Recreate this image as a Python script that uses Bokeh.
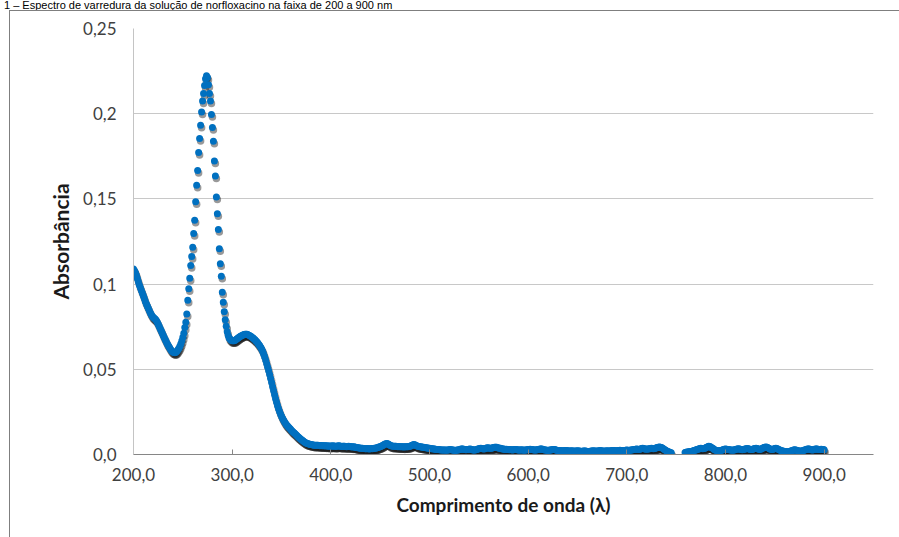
from bokeh.plotting import figure
from bokeh.layouts import column
from bokeh.models import (ColumnDataSource, Range1d, FixedTicker, Div,
                          CustomJSTickFormatter, InlineStyleSheet)
from bokeh.embed import file_html
from bokeh.resources import INLINE

# Absorbance spectrum of the norfloxacin solution, 1 nm step.
abs_200_249 = [
    0.1088, 0.1078, 0.1066, 0.1050, 0.1032, 0.1012, 0.0993, 0.0978, 0.0962, 0.0948,
    0.0932, 0.0915, 0.0898, 0.0884, 0.0871, 0.0858, 0.0845, 0.0832, 0.0821, 0.0812,
    0.0805, 0.0800, 0.0795, 0.0788, 0.0778, 0.0766, 0.0752, 0.0740, 0.0727, 0.0714,
    0.0701, 0.0688, 0.0676, 0.0664, 0.0652, 0.0642, 0.0632, 0.0622, 0.0613, 0.0606,
    0.0601, 0.0598, 0.0597, 0.0600, 0.0606, 0.0614, 0.0624, 0.0636, 0.0650, 0.0668,
]
abs_250_299 = [
    0.0688, 0.0712, 0.0745, 0.0776, 0.0825, 0.0905, 0.0972, 0.1034, 0.1109, 0.1162,
    0.1216, 0.1297, 0.1374, 0.1483, 0.1580, 0.1667, 0.1772, 0.1854, 0.1932, 0.2010,
    0.2074, 0.2119, 0.2165, 0.2205, 0.2222, 0.2212, 0.2170, 0.2119, 0.2074, 0.1995,
    0.1919, 0.1838, 0.1722, 0.1634, 0.1511, 0.1413, 0.1321, 0.1207, 0.1119, 0.1046,
    0.0952, 0.0893, 0.0838, 0.0791, 0.0752, 0.0720, 0.0698, 0.0684, 0.0676, 0.0671,
]
abs_300_349 = [
    0.0668, 0.0667, 0.0668, 0.0671, 0.0675, 0.0679, 0.0684, 0.0688, 0.0692, 0.0696,
    0.0699, 0.0702, 0.0704, 0.0706, 0.0706, 0.0705, 0.0703, 0.0700, 0.0697, 0.0693,
    0.0689, 0.0684, 0.0679, 0.0673, 0.0667, 0.0661, 0.0654, 0.0646, 0.0638, 0.0628,
    0.0617, 0.0604, 0.0589, 0.0572, 0.0553, 0.0533, 0.0512, 0.0491, 0.0469, 0.0446,
    0.0422, 0.0398, 0.0374, 0.0350, 0.0327, 0.0306, 0.0286, 0.0268, 0.0252, 0.0237,
]
abs_350_399 = [
    0.0224, 0.0213, 0.0202, 0.0192, 0.0183, 0.0175, 0.0168, 0.0161, 0.0155, 0.0149,
    0.0143, 0.0137, 0.0131, 0.0126, 0.0120, 0.0114, 0.0109, 0.0103, 0.0098, 0.0093,
    0.0088, 0.0083, 0.0079, 0.0075, 0.0071, 0.0068, 0.0065, 0.0063, 0.0061, 0.0059,
    0.0058, 0.0057, 0.0056, 0.0055, 0.0055, 0.0054, 0.0055, 0.0054, 0.0053, 0.0052,
    0.0053, 0.0052, 0.0051, 0.0052, 0.0051, 0.0050, 0.0051, 0.0050, 0.0049, 0.0050,
]
abs_400_449 = [
    0.0050, 0.0049, 0.0051, 0.0050, 0.0049, 0.0048, 0.0049, 0.0050, 0.0051, 0.0050,
    0.0048, 0.0047, 0.0048, 0.0049, 0.0048, 0.0047, 0.0046, 0.0047, 0.0048, 0.0047,
    0.0046, 0.0045, 0.0044, 0.0045, 0.0044, 0.0042, 0.0041, 0.0040, 0.0039, 0.0038,
    0.0037, 0.0036, 0.0036, 0.0035, 0.0035, 0.0034, 0.0034, 0.0035, 0.0034, 0.0033,
    0.0034, 0.0035, 0.0034, 0.0035, 0.0036, 0.0037, 0.0038, 0.0040, 0.0042, 0.0044,
]
abs_450_499 = [
    0.0046, 0.0049, 0.0052, 0.0055, 0.0058, 0.0061, 0.0063, 0.0064, 0.0062, 0.0059,
    0.0055, 0.0052, 0.0050, 0.0049, 0.0048, 0.0049, 0.0048, 0.0047, 0.0046, 0.0047,
    0.0046, 0.0045, 0.0046, 0.0045, 0.0044, 0.0045, 0.0046, 0.0045, 0.0046, 0.0047,
    0.0048, 0.0050, 0.0053, 0.0056, 0.0058, 0.0057, 0.0054, 0.0051, 0.0049, 0.0047,
    0.0046, 0.0045, 0.0044, 0.0043, 0.0042, 0.0041, 0.0040, 0.0039, 0.0038, 0.0037,
]
abs_500_549 = [
    0.0036, 0.0035, 0.0034, 0.0034, 0.0033, 0.0032, 0.0031, 0.0030, 0.0030, 0.0029,
    0.0028, 0.0028, 0.0027, 0.0026, 0.0026, 0.0027, 0.0026, 0.0025, 0.0026, 0.0027,
    0.0028, 0.0029, 0.0028, 0.0027, 0.0026, 0.0025, 0.0024, 0.0025, 0.0026, 0.0027,
    0.0028, 0.0030, 0.0032, 0.0033, 0.0032, 0.0030, 0.0029, 0.0028, 0.0029, 0.0030,
    0.0031, 0.0032, 0.0031, 0.0029, 0.0027, 0.0026, 0.0027, 0.0028, 0.0030, 0.0032,
]
abs_550_599 = [
    0.0034, 0.0035, 0.0036, 0.0035, 0.0034, 0.0033, 0.0034, 0.0036, 0.0038, 0.0039,
    0.0038, 0.0037, 0.0036, 0.0037, 0.0039, 0.0041, 0.0042, 0.0043, 0.0042, 0.0040,
    0.0038, 0.0037, 0.0036, 0.0034, 0.0033, 0.0032, 0.0031, 0.0030, 0.0031, 0.0030,
    0.0029, 0.0028, 0.0029, 0.0028, 0.0027, 0.0028, 0.0029, 0.0030, 0.0029, 0.0028,
    0.0027, 0.0026, 0.0027, 0.0028, 0.0027, 0.0026, 0.0025, 0.0026, 0.0027, 0.0028,
]
abs_600_649 = [
    0.0029, 0.0030, 0.0031, 0.0030, 0.0029, 0.0028, 0.0027, 0.0026, 0.0027, 0.0028,
    0.0029, 0.0030, 0.0032, 0.0033, 0.0032, 0.0030, 0.0028, 0.0027, 0.0026, 0.0025,
    0.0024, 0.0025, 0.0026, 0.0027, 0.0028, 0.0029, 0.0030, 0.0029, 0.0027, 0.0025,
    0.0024, 0.0023, 0.0022, 0.0023, 0.0022, 0.0021, 0.0022, 0.0023, 0.0024, 0.0023,
    0.0022, 0.0021, 0.0020, 0.0021, 0.0022, 0.0021, 0.0020, 0.0019, 0.0020, 0.0021,
]
abs_650_699 = [
    0.0022, 0.0021, 0.0020, 0.0019, 0.0018, 0.0019, 0.0020, 0.0021, 0.0020, 0.0019,
    0.0018, 0.0017, 0.0018, 0.0019, 0.0020, 0.0021, 0.0022, 0.0021, 0.0020, 0.0019,
    0.0020, 0.0021, 0.0022, 0.0023, 0.0022, 0.0021, 0.0020, 0.0019, 0.0020, 0.0021,
    0.0022, 0.0021, 0.0020, 0.0021, 0.0022, 0.0023, 0.0024, 0.0023, 0.0022, 0.0021,
    0.0022, 0.0023, 0.0024, 0.0025, 0.0024, 0.0023, 0.0022, 0.0023, 0.0024, 0.0025,
]
abs_700_745 = [
    0.0026, 0.0025, 0.0024, 0.0025, 0.0026, 0.0027, 0.0028, 0.0029, 0.0030, 0.0031,
    0.0032, 0.0031, 0.0030, 0.0031, 0.0033, 0.0035, 0.0036, 0.0035, 0.0033, 0.0032,
    0.0031, 0.0032, 0.0033, 0.0034, 0.0035, 0.0036, 0.0035, 0.0034, 0.0035, 0.0037,
    0.0039, 0.0041, 0.0043, 0.0044, 0.0043, 0.0041, 0.0038, 0.0034, 0.0030, 0.0026,
    0.0022, 0.0019, 0.0016, 0.0014, 0.0012, 0.0011,
]
# second detector segment (after the gap)
abs_759_799 = [
    0.0012, 0.0013, 0.0014, 0.0015, 0.0016, 0.0017, 0.0018, 0.0019, 0.0021, 0.0023,
    0.0025, 0.0027, 0.0029, 0.0031, 0.0033, 0.0035, 0.0036, 0.0035, 0.0034, 0.0035,
    0.0037, 0.0040, 0.0043, 0.0046, 0.0048, 0.0047, 0.0044, 0.0040, 0.0036, 0.0032,
    0.0028, 0.0025, 0.0023, 0.0022, 0.0021, 0.0022, 0.0023, 0.0025, 0.0027, 0.0029,
    0.0031,
]
abs_800_849 = [
    0.0032, 0.0031, 0.0030, 0.0029, 0.0028, 0.0027, 0.0026, 0.0025, 0.0026, 0.0027,
    0.0029, 0.0031, 0.0033, 0.0034, 0.0033, 0.0031, 0.0029, 0.0028, 0.0029, 0.0031,
    0.0033, 0.0034, 0.0035, 0.0034, 0.0032, 0.0030, 0.0029, 0.0030, 0.0032, 0.0034,
    0.0035, 0.0036, 0.0035, 0.0033, 0.0031, 0.0030, 0.0032, 0.0035, 0.0038, 0.0041,
    0.0043, 0.0044, 0.0042, 0.0039, 0.0036, 0.0033, 0.0031, 0.0030, 0.0031, 0.0033,
]
abs_850_900 = [
    0.0035, 0.0036, 0.0035, 0.0032, 0.0029, 0.0026, 0.0024, 0.0022, 0.0020, 0.0019,
    0.0018, 0.0017, 0.0016, 0.0015, 0.0016, 0.0018, 0.0020, 0.0022, 0.0024, 0.0026,
    0.0028, 0.0027, 0.0025, 0.0023, 0.0021, 0.0020, 0.0019, 0.0020, 0.0022, 0.0024,
    0.0026, 0.0028, 0.0030, 0.0032, 0.0033, 0.0032, 0.0030, 0.0028, 0.0027, 0.0028,
    0.0030, 0.0032, 0.0033, 0.0032, 0.0030, 0.0029, 0.0030, 0.0031, 0.0030, 0.0029,
    0.0028,
]

absorbance_a = (abs_200_249 + abs_250_299 + abs_300_349 + abs_350_399 + abs_400_449
                + abs_450_499 + abs_500_549 + abs_550_599 + abs_600_649 + abs_650_699
                + abs_700_745)
absorbance_b = abs_759_799 + abs_800_849 + abs_850_900
start_a, start_b = 200, 759
wavelength_a = [start_a + i for i in range(len(absorbance_a))]
wavelength_b = [start_b + i for i in range(len(absorbance_b))]

x_ticks = [200, 300, 400, 500, 600, 700, 800, 900]
x_tick_labels = ["200,0", "300,0", "400,0", "500,0", "600,0", "700,0", "800,0", "900,0"]
y_ticks = [0.0, 0.05, 0.1, 0.15, 0.2, 0.25]
y_tick_labels = ["0,0", "0,05", "0,1", "0,15", "0,2", "0,25"]

x_title = "Comprimento de onda (λ)"
y_title = "Absorbância"
caption = "1 – Espectro de varredura da solução de norfloxacino na faixa de 200 a 900 nm"

W = 899
CAPTION_H = 10
H = 537 - CAPTION_H
X0, X1 = 200, 950
Y0, Y1 = 0.0, 0.25
BORDER_L, BORDER_R, BORDER_T, BORDER_B = 133, 26, 18, 83

# caption line above the chart box
caption_div = Div(text=caption, width=W, height=CAPTION_H, margin=0,
                  styles={"font-family": "Liberation Sans", "font-size": "11px",
                          "line-height": "10px", "white-space": "nowrap",
                          "color": "#000000", "padding-left": "4px",
                          "overflow": "visible", "background-color": "white"})

# thin grey frame of the chart area (left and top edges), drawn in CSS
frame_css = InlineStyleSheet(css="""
:host { position: relative; background-color: white; }
:host::after {
  content: ""; position: absolute; left: 9px; top: 0; right: 0; bottom: 0;
  border-left: 1px solid #7f7f7f; border-top: 1px solid #7f7f7f;
  pointer-events: none; z-index: 10;
}
""")

p = figure(width=W, height=H, output_backend="svg", toolbar_location=None,
           x_range=Range1d(X0, X1), y_range=Range1d(Y0, Y1),
           min_border_left=BORDER_L, min_border_right=BORDER_R,
           min_border_top=BORDER_T, min_border_bottom=BORDER_B,
           stylesheets=[frame_css], margin=0)
p.outline_line_color = None
p.background_fill_color = "white"
p.border_fill_color = "white"

# drop shadow under the markers: a small screen offset converted to data units
frame_w = W - BORDER_L - BORDER_R
frame_h = H - BORDER_T - BORDER_B
dx = 1.0 * (X1 - X0) / frame_w
dy = 2.5 * (Y1 - Y0) / frame_h

all_wl = wavelength_a + wavelength_b
all_abs = absorbance_a + absorbance_b
shadow = ColumnDataSource(dict(x=[w + dx for w in all_wl], y=[a - dy for a in all_abs]))
p.scatter("x", "y", source=shadow, size=7.5, marker="circle",
          fill_color="#1c1c1c", line_color=None, fill_alpha=0.45)

for wl, ab in ((wavelength_a, absorbance_a), (wavelength_b, absorbance_b)):
    src = ColumnDataSource(dict(x=wl, y=ab))
    p.scatter("x", "y", source=src, size=7, marker="circle",
              fill_color="#0070C0", line_color=None)

fmt_code = """
const i = tick_values.findIndex(t => Math.abs(t - tick) < 1e-6);
return i >= 0 ? tick_texts[i] : "";
"""
p.xaxis.ticker = FixedTicker(ticks=x_ticks)
p.xaxis.formatter = CustomJSTickFormatter(
    args=dict(tick_values=x_ticks, tick_texts=x_tick_labels), code=fmt_code)
p.yaxis.ticker = FixedTicker(ticks=y_ticks)
p.yaxis.formatter = CustomJSTickFormatter(
    args=dict(tick_values=y_ticks, tick_texts=y_tick_labels), code=fmt_code)

tick_font = "Lato"
for ax in (p.xaxis, p.yaxis):
    ax.major_label_text_font = tick_font
    ax.major_label_text_font_size = "17px"
    ax.major_label_text_color = "#404040"
    ax.minor_tick_line_color = None
    ax.axis_label_text_font = tick_font
    ax.axis_label_text_font_style = "bold"
    ax.axis_label_text_color = "#1a1a1a"

p.xaxis.axis_label = x_title
p.xaxis.axis_label_text_font_size = "19px"
p.xaxis.axis_line_color = "#868686"
p.xaxis.major_tick_line_color = "#868686"
p.xaxis.major_tick_in = 5
p.xaxis.major_tick_out = 0
p.xaxis.major_label_standoff = 13
p.xaxis.axis_label_standoff = 9

p.yaxis.axis_label = y_title
p.yaxis.axis_label_text_font_size = "21px"
p.yaxis.axis_line_color = "#C4C4C4"
p.yaxis.major_tick_line_color = None
p.yaxis.major_tick_in = 0
p.yaxis.major_tick_out = 0
p.yaxis.major_label_standoff = 17
p.yaxis.axis_label_standoff = 7

p.xgrid.grid_line_color = None
p.ygrid.grid_line_color = "#C8C8C8"
p.ygrid.grid_line_width = 1

page = column(caption_div, p, spacing=0, margin=0)
open("out.html", "w").write(file_html(page, INLINE))
